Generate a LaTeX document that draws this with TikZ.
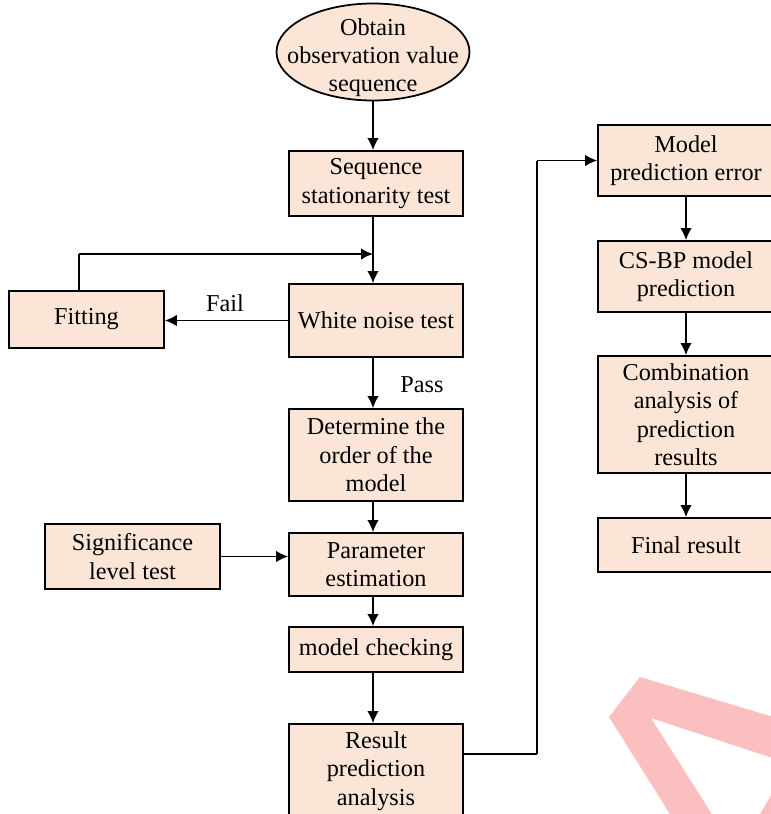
\documentclass[tikz,border=0pt]{standalone}
\usepackage{fontspec}
\setmainfont{Liberation Serif}
\usetikzlibrary{shapes.geometric}
\usetikzlibrary{arrows.meta}
\pgfdeclarelayer{edgelayer}
\pgfdeclarelayer{nodelayer}
\pgfsetlayers{edgelayer,nodelayer,main}
\definecolor{boxfill}{HTML}{FBE5D6}
\definecolor{markpink}{HTML}{FBBFC0}
\tikzstyle{none}=[inner sep=0pt]
\tikzstyle{label}=[inner sep=0pt,font=\fontsize{13.8}{16.2}\selectfont]
\tikzstyle{start}=[ellipse,fill=boxfill,draw=black,line width=1pt,inner xsep=-14pt,inner ysep=-8pt,align=center,font=\fontsize{13.8}{16.2}\selectfont]
\tikzstyle{process}=[rectangle,fill=boxfill,draw=black,line width=1pt,inner sep=0pt,align=center,font=\fontsize{13.8}{16.2}\selectfont]
\tikzstyle{flow}=[-{Latex[length=2.4mm,width=2.3mm]},draw=black,line width=1pt]
\tikzstyle{simple}=[-,draw=black,line width=1pt]

\begin{document}
\begin{tikzpicture}
	\useasboundingbox (0, 0) rectangle (15.4, -16.28);
	\begin{pgfonlayer}{nodelayer}
		\node [style=start, minimum width=3.86cm, minimum height=1.94cm] (0) at (7.46, -1.04) {\rule{0pt}{16pt}Obtain\\observation value\\sequence};
		\node [style=process, minimum width=3.48cm, minimum height=1.3cm] (1) at (7.52, -3.67) {Sequence\\stationarity test};
		\node [style=process, minimum width=3.48cm, minimum height=1.46cm] (2) at (7.52, -6.41) {White noise test};
		\node [style=process, minimum width=3.1cm, minimum height=1.14cm] (3) at (1.73, -6.39) {Fitting};
		\coordinate (4) at (1.58, -5.08);
		\coordinate (5) at (7.46, -5.08);
		\node [style=label] (6) at (4.5, -6.06) {Fail};
		\node [style=process, minimum width=3.48cm, minimum height=1.84cm] (7) at (7.52, -9.1) {Determine the\\order of the\\model};
		\node [style=label] (8) at (8.44, -7.7) {Pass};
		\node [style=process, minimum width=3.48cm, minimum height=1.26cm] (9) at (7.52, -11.29) {Parameter\\estimation};
		\node [style=process, minimum width=3.5cm, minimum height=1.3cm] (10) at (2.65, -11.13) {Significance\\level test};
		\node [style=process, minimum width=3.48cm, minimum height=0.9cm] (11) at (7.52, -12.99) {model checking};
		\node [style=process, minimum width=3.48cm, minimum height=1.88cm] (12) at (7.52, -15.42) {Result\\prediction\\analysis};
		\coordinate (13) at (10.74, -15.08);
		\coordinate (14) at (10.74, -3.21);
		\node [style=process, minimum width=3.52cm, minimum height=1.42cm] (15) at (13.72, -3.21) {Model\\prediction error};
		\node [style=process, minimum width=3.52cm, minimum height=1.42cm] (16) at (13.72, -5.53) {CS-BP model\\prediction};
		\node [style=process, minimum width=3.52cm, minimum height=2.34cm] (17) at (13.72, -8.29) {Combination\\analysis of\\prediction\\results};
		\node [style=process, minimum width=3.52cm, minimum height=1.08cm] (18) at (13.72, -10.9) {Final result};
	\end{pgfonlayer}
	\begin{pgfonlayer}{edgelayer}
		\fill [white] (0, 0) rectangle (15.4, -16.28);
		\fill [markpink] (12.8, -13.54) -- (16, -14.5) -- (16, -15.34) -- (13.02, -14.36) -- (14.44, -16.6) -- (13.6, -16.6) -- (12.18, -14.34) -- cycle;
		\fill [markpink] (15, -16.62) -- (15.6, -15.6) -- (15.6, -16.62) -- cycle;
		\draw [style=flow] (0.south -| 5) to (1.north -| 5);
		\draw [style=flow] (1.south -| 5) to (2.north -| 5);
		\draw [style=simple] (3.north -| 4) to (4);
		\draw [style=flow] (4) to (5);
		\draw [style=flow] (2.west) to (3.east |- 2.west);
		\draw [style=flow] (2.south -| 5) to (7.north -| 5);
		\draw [style=flow] (7.south -| 5) to (9.north -| 5);
		\draw [style=flow] (10.east) to (9.west |- 10.east);
		\draw [style=flow] (9.south -| 5) to (11.north -| 5);
		\draw [style=flow] (11.south -| 5) to (12.north -| 5);
		\draw [style=simple] (12.east |- 13) to (13);
		\draw [style=simple] (13) to (14);
		\draw [style=flow] (14) to (15.west);
		\draw [style=flow] (15) to (16);
		\draw [style=flow] (16) to (17);
		\draw [style=flow] (17) to (18);
	\end{pgfonlayer}
\end{tikzpicture}
\end{document}
